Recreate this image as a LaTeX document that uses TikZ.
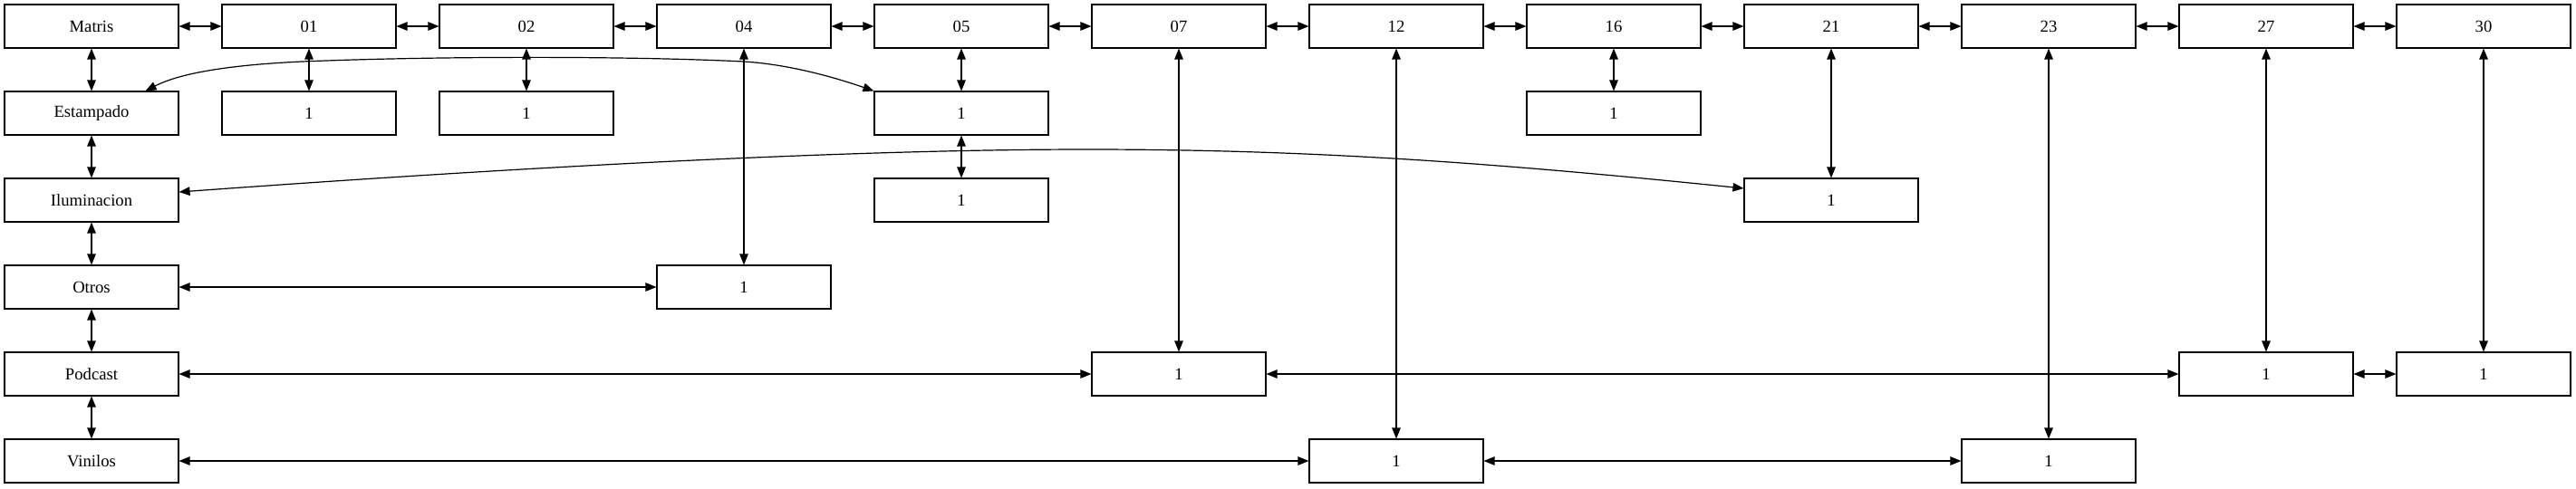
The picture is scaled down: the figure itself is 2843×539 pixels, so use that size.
\documentclass[tikz,border=0pt]{standalone}
\usepackage{fontspec}
\setmainfont{Liberation Serif}
\usetikzlibrary{arrows.meta,calc}
\begin{document}
\begin{tikzpicture}[x=1pt,y=-1pt,
  box/.style={draw,rectangle,minimum width=192pt,minimum height=48pt,inner sep=0pt,line width=1.1pt,font=\fontsize{18.67}{22}\selectfont},
  link/.style={line width=1.2pt,{Triangle[length=12pt,width=9.5pt]}-{Triangle[length=12pt,width=9.5pt]}}]
\useasboundingbox (0,0) rectangle (2843,539);
% top row
\node[box] (m) at (101,29) {Matris};
\node[box] (c01) at (341,29) {01};
\node[box] (c02) at (581,29) {02};
\node[box] (c04) at (821,29) {04};
\node[box] (c05) at (1061,29) {05};
\node[box] (c07) at (1301,29) {07};
\node[box] (c12) at (1541,29) {12};
\node[box] (c16) at (1781,29) {16};
\node[box] (c21) at (2021,29) {21};
\node[box] (c23) at (2261,29) {23};
\node[box] (c27) at (2501,29) {27};
\node[box] (c30) at (2741,29) {30};
% left column
\node[box] (est) at (101,125) {Estampado};
\node[box] (ilu) at (101,221) {Iluminacion};
\node[box] (otr) at (101,317) {Otros};
\node[box] (pod) at (101,413) {Podcast};
\node[box] (vin) at (101,509) {Vinilos};
% cells
\node[box] (a01) at (341,125) {1};
\node[box] (a02) at (581,125) {1};
\node[box] (a04) at (821,317) {1};
\node[box] (a05) at (1061,125) {1};
\node[box] (b05) at (1061,221) {1};
\node[box] (a07) at (1301,413) {1};
\node[box] (a12) at (1541,509) {1};
\node[box] (a16) at (1781,125) {1};
\node[box] (a21) at (2021,221) {1};
\node[box] (a23) at (2261,509) {1};
\node[box] (a27) at (2501,413) {1};
\node[box] (a30) at (2741,413) {1};
% top row chain
\foreach \a/\b in {m/c01,c01/c02,c02/c04,c04/c05,c05/c07,c07/c12,c12/c16,c16/c21,c21/c23,c23/c27,c27/c30}
  \draw[link] (\a.east) -- (\b.west);
% left column chain
\foreach \a/\b in {m/est,est/ilu,ilu/otr,otr/pod,pod/vin}
  \draw[link] (\a.south) -- (\b.north);
% verticals
\foreach \a/\b in {c01/a01,c02/a02,c04/a04,c05/a05,a05/b05,c07/a07,c12/a12,c16/a16,c21/a21,c23/a23,c27/a27,c30/a30}
  \draw[link] (\a.south) -- (\b.north);
% horizontals
\foreach \a/\b in {otr/a04,pod/a07,a07/a27,a27/a30,vin/a12,a12/a23}
  \draw[link] (\a.east) -- (\b.west);
% curves
\draw[link] ([xshift=-37pt]est.north east) .. controls (200,80) and (260,70) .. (360,67)
  .. controls (500,62) and (700,62) .. (821,68)
  .. controls (870,71) and (920,85) .. (a05.north west);
\draw[link] ([yshift=9pt]ilu.east) .. controls (500,190) and (900,165) .. (1200,165)
  .. controls (1450,165) and (1650,180) .. ([yshift=13pt]a21.west);
\end{tikzpicture}
\end{document}
